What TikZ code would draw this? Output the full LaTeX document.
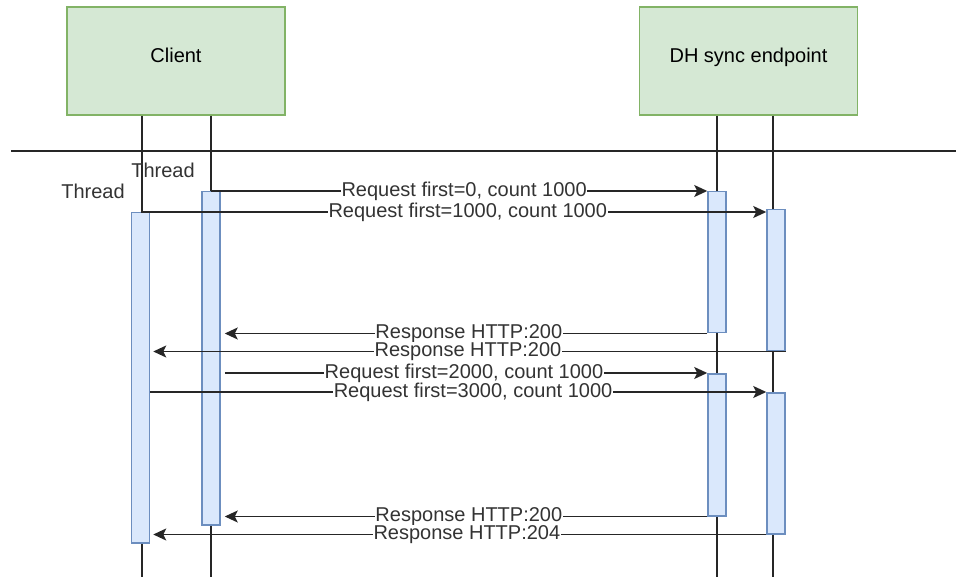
\documentclass[tikz,border=0pt]{standalone}
\usepackage{fontspec}
\setmainfont{Liberation Sans}
\usetikzlibrary{positioning,arrows.meta}

\definecolor{greenfill}{HTML}{D5E8D4}
\definecolor{greenline}{HTML}{82B366}
\definecolor{bluefill}{HTML}{DAE8FC}
\definecolor{blueline}{HTML}{6C8EBF}

\begin{document}
\begin{tikzpicture}[x=1pt,y=-1pt,
    >={Stealth[length=13pt,width=12pt,inset=3pt]},
    party/.style={
        rectangle,
        draw=greenline,
        fill=greenfill,
        line width=1.5pt,
        minimum width=218pt, minimum height=108pt,
        text depth=12pt,
        align=center,
        font=\fontsize{20}{24}\selectfont
        },
    activation/.style={
        rectangle,
        draw=blueline,
        fill=bluefill,
        line width=1.5pt,
        inner sep=0pt,
        minimum width=18pt,
        anchor=north},
    lifeline/.style={line width=1.6pt, black!85},
    msg/.style={line width=1.6pt, black!85},
    msglabel/.style={fill=white, inner xsep=0.5pt, inner ysep=0pt,
        font=\fontsize{20}{22}\selectfont, text=black!80},
    threadlabel/.style={inner sep=0pt,
        font=\fontsize{20}{22}\selectfont, text=black!80}
    ]

    \useasboundingbox (0,0) rectangle (956,577);

    % participants
    \node (client) [party] at (176,61) {Client};
    \node (endpoint) [party] at (748.5,61) {DH sync endpoint};

    \coordinate (sep_left) at (11,151);
    \coordinate (sep_right) at (956,151);
    \draw[line width=1.5pt, black!85] (sep_left) -- (sep_right);

    % lifelines
    \coordinate (end_a) at (142,577);
    \coordinate (end_b) at (211,577);
    \coordinate (end_e1) at (717,577);
    \coordinate (end_e2) at (773,577);
    \draw[lifeline] (client.south -| end_a) -- (end_a);
    \draw[lifeline] (client.south -| end_b) -- (end_b);
    \draw[lifeline] (endpoint.south -| end_e1) -- (end_e1);
    \draw[lifeline] (endpoint.south -| end_e2) -- (end_e2);

    \node (thread_a) [threadlabel] at (93,191) {Thread};
    \node (thread_b) [threadlabel] at (163,170) {Thread};

    % activations
    \node (act_a) [activation, minimum height=330pt] at (140.5,212) {};
    \node (act_b) [activation, minimum height=333pt] at (211,191) {};
    \node (act_e1a) [activation, minimum height=141pt] at (717,191) {};
    \node (act_e1b) [activation, minimum height=142pt] at (717,373) {};
    \node (act_e2a) [activation, minimum height=141pt] at (776,209) {};
    \node (act_e2b) [activation, minimum height=141pt] at (776,392) {};

    % messages
    \draw[msg,->] (act_b.north) -- (act_e1a.north west)
        node[msglabel, pos=0.51] {Request first=0, count 1000};
    \draw[msg,->] (act_a.north) -- (act_a.north -| act_e2a.west)
        node[msglabel, pos=0.523] {Request first=1000, count 1000};

    \draw[msg,->, shorten >=4pt] (act_e1a.south west) -- (act_e1a.south west -| act_b.east)
        node[msglabel, pos=0.49] {Response HTTP:200};
    \draw[msg,->, shorten >=3pt] (act_e2a.south east) -- (act_e2a.south east -| act_a.east)
        node[msglabel, midway] {Response HTTP:200};

    \draw[msg,->, shorten <=4pt] (act_e1b.north -| act_b.east) -- (act_e1b.north west)
        node[msglabel, midway] {Request first=2000, count 1000};
    \draw[msg,->] (act_e2b.north -| act_a.east) -- (act_e2b.north west)
        node[msglabel, pos=0.524] {Request first=3000, count 1000};

    \draw[msg,->, shorten >=4pt] (act_e1b.south west) -- (act_e1b.south west -| act_b.east)
        node[msglabel, pos=0.49] {Response HTTP:200};
    \draw[msg,->, shorten >=3pt] (act_e2b.south west) -- (act_e2b.south west -| act_a.east)
        node[msglabel, pos=0.486] {Response HTTP:204};
\end{tikzpicture}
\end{document}
